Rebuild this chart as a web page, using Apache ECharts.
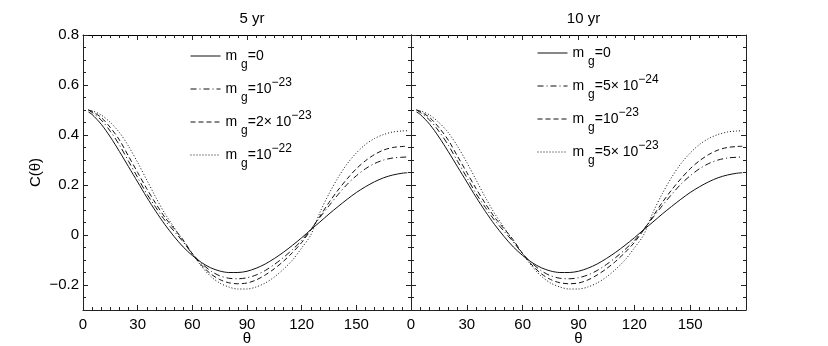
<!DOCTYPE html>
<html><head><meta charset="utf-8">
<script src="https://cdn.jsdelivr.net/npm/echarts@6/dist/echarts.min.js"></script>
<style>html,body{margin:0;padding:0;background:#fff}#c{width:828px;height:346px}</style>
</head><body><div id="c"></div>
<script>
var theta = [3,5,10,15,20,25,30,35,40,45,50,55,60,65,70,75,80,85,90,95,100,105,110,115,120,125,130,135,140,145,150,155,160,165,170,175,178];
// 5 yr panel
var L_mg0   = [0.492,0.482,0.443,0.392,0.334,0.273,0.212,0.151,0.094,0.041,-0.006,-0.048,-0.082,-0.110,-0.131,-0.144,-0.150,-0.150,-0.145,-0.133,-0.116,-0.094,-0.069,-0.041,-0.011,0.021,0.052,0.084,0.114,0.143,0.170,0.193,0.213,0.229,0.240,0.247,0.249];
var L_mg1   = [0.500,0.490,0.460,0.415,0.360,0.295,0.230,0.165,0.110,0.058,0.015,-0.028,-0.075,-0.113,-0.143,-0.163,-0.173,-0.175,-0.171,-0.160,-0.142,-0.118,-0.090,-0.058,-0.022,0.022,0.070,0.117,0.162,0.203,0.237,0.265,0.286,0.300,0.308,0.311,0.312];
var L_mg2   = [0.500,0.494,0.470,0.430,0.380,0.315,0.250,0.185,0.125,0.070,0.025,-0.020,-0.075,-0.120,-0.155,-0.178,-0.191,-0.195,-0.192,-0.180,-0.160,-0.135,-0.105,-0.070,-0.030,0.020,0.075,0.130,0.180,0.225,0.265,0.297,0.322,0.340,0.350,0.354,0.355];
var L_mg3   = [0.500,0.497,0.480,0.450,0.410,0.355,0.290,0.220,0.150,0.085,0.030,-0.025,-0.075,-0.125,-0.165,-0.192,-0.208,-0.216,-0.216,-0.208,-0.192,-0.168,-0.137,-0.100,-0.052,0.000,0.090,0.165,0.230,0.285,0.328,0.362,0.386,0.402,0.412,0.416,0.417];
// 10 yr panel
var R_mg0   = [0.492,0.482,0.443,0.392,0.334,0.273,0.212,0.151,0.094,0.041,-0.006,-0.048,-0.082,-0.110,-0.131,-0.144,-0.150,-0.150,-0.145,-0.133,-0.116,-0.094,-0.069,-0.041,-0.011,0.021,0.052,0.084,0.114,0.143,0.170,0.193,0.213,0.229,0.240,0.247,0.249];
var R_mg1   = [0.500,0.490,0.460,0.415,0.360,0.295,0.230,0.165,0.110,0.058,0.015,-0.028,-0.075,-0.113,-0.143,-0.163,-0.173,-0.175,-0.171,-0.160,-0.142,-0.118,-0.090,-0.058,-0.022,0.022,0.070,0.117,0.162,0.203,0.237,0.265,0.286,0.300,0.308,0.311,0.312];
var R_mg2   = [0.500,0.494,0.470,0.430,0.380,0.315,0.250,0.185,0.125,0.070,0.025,-0.020,-0.075,-0.120,-0.155,-0.178,-0.191,-0.195,-0.192,-0.180,-0.160,-0.135,-0.105,-0.070,-0.030,0.020,0.075,0.130,0.180,0.225,0.265,0.297,0.322,0.340,0.350,0.354,0.355];
var R_mg3   = [0.500,0.497,0.480,0.450,0.410,0.355,0.290,0.220,0.150,0.085,0.030,-0.025,-0.075,-0.125,-0.165,-0.192,-0.208,-0.216,-0.216,-0.208,-0.192,-0.168,-0.137,-0.100,-0.052,0.000,0.090,0.165,0.230,0.285,0.328,0.362,0.386,0.402,0.412,0.416,0.417];

var panelTitles = ['5 yr', '10 yr'];
var leftLegend  = [['0',''],['10','\u221223'],['2\u00d7 10','\u221223'],['10','\u221222']];
var rightLegend = [['0',''],['5\u00d7 10','\u221224'],['10','\u221223'],['5\u00d7 10','\u221223']];
var yTickVals = [-0.2,0,0.2,0.4,0.6,0.8];
var xTickLabels = ['0','30','60','90','120','150'];

var FONT = 'Liberation Sans, Arial, Helvetica, sans-serif';
var styles = [
  {type:'solid'},
  {type:[6,3,1,3]},
  {type:[5,3]},
  {type:[1,2]}
];
function pairs(arr){ return theta.map(function(t,i){ return [t, arr[i]]; }); }

var grids = [
  {left:83, top:35, width:328, height:275, outerBoundsMode:'none', containLabel:false},
  {left:411, top:35, width:335, height:275, outerBoundsMode:'none', containLabel:false}
];
var xAxes = [], yAxes = [], series = [];
var AX = '#222';
grids.forEach(function(g, gi){
  xAxes.push({gridIndex:gi, type:'value', position:'bottom', min:0, max:180, interval:30,
    axisLine:{show:true, onZero:false, lineStyle:{color:AX, width:1}},
    axisTick:{show:true, inside:true, length:5, lineStyle:{color:AX}},
    minorTick:{show:true, splitNumber:6, length:3, lineStyle:{color:AX}},
    splitLine:{show:false},
    axisLabel:{show:true, margin:7, color:'#000', fontFamily:FONT, fontSize:15, showMaxLabel:false,
      formatter:function(v){ var i=Math.round(v/30); return i<xTickLabels.length? xTickLabels[i] : ''; }},
    name:'\u03b8', nameLocation:'middle', nameGap:21, nameMoveOverlap:false,
    nameTextStyle:{color:'#000', fontFamily:FONT, fontSize:15}
  });
  xAxes.push({gridIndex:gi, type:'value', position:'top', min:0, max:180, interval:30,
    axisLine:{show:true, onZero:false, lineStyle:{color:'#000', width:1}},
    axisTick:{show:true, inside:true, length:5, lineStyle:{color:AX}},
    minorTick:{show:true, splitNumber:6, length:3, lineStyle:{color:AX}},
    splitLine:{show:false}, axisLabel:{show:false}
  });
  ['left','right'].forEach(function(pos){
    var showLab = (gi===0 && pos==='left');
    yAxes.push({gridIndex:gi, type:'value', position:pos, min:-0.3, max:0.8,
      axisLine:{show:true, onZero:false, lineStyle:{color:AX, width:1}},
      axisTick:{show:true, inside:true, length:5, customValues:yTickVals, lineStyle:{color:AX}},
      splitLine:{show:false},
      axisLabel:{show:showLab, margin:4, color:'#000', fontFamily:FONT, fontSize:15, customValues:yTickVals,
        formatter:function(v){ if(Math.abs(v)<1e-9) return '0'; return (v<0?'\u2212':'')+Math.abs(v).toFixed(1); }},
      name: showLab ? 'C(\u03b8)' : '', nameLocation:'middle', nameGap:40, nameRotate:90, nameMoveOverlap:false,
      nameTextStyle:{color:'#000', fontFamily:FONT, fontSize:15}
    });
    yAxes.push({gridIndex:gi, type:'value', position:pos, min:-0.3, max:0.8, interval:0.05,
      axisLine:{show:false, onZero:false},
      axisTick:{show:true, inside:true, length:3, lineStyle:{color:AX}},
      splitLine:{show:false}, axisLabel:{show:false}
    });
  });
});

var sets = [[L_mg0,L_mg1,L_mg2,L_mg3],[R_mg0,R_mg1,R_mg2,R_mg3]];
sets.forEach(function(set, gi){
  set.forEach(function(arr, k){
    series.push({type:'line', name:(gi===0?'L':'R')+k, xAxisIndex:gi*2, yAxisIndex:gi*4,
      data:pairs(arr), symbol:'none', smooth:0.3, silent:true, animation:false,
      itemStyle:{color:'#000'},
      lineStyle:{color:'#111', width:1, type:styles[k].type}
    });
  });
});

var rich = {
  m:{fontSize:14, fontFamily:FONT, color:'#000', lineHeight:30, verticalAlign:'middle'},
  sub:{fontSize:12, fontFamily:FONT, color:'#000', lineHeight:12, verticalAlign:'bottom', padding:[8,0,0,0]},
  sup:{fontSize:12, fontFamily:FONT, color:'#000', lineHeight:12, verticalAlign:'top', padding:[3,0,0,0]}
};
function legFmt(tbl){
  return function(name){
    var k = +name.slice(1); var e = tbl[k];
    return '{m|m }{sub|g}{m|=' + e[0] + '}' + (e[1] ? '{sup|' + e[1] + '}' : '');
  };
}
var legends = [
  {data:['L0','L1','L2','L3'], left:190, top:49, formatter:legFmt(leftLegend)},
  {data:['R0','R1','R2','R3'], left:537, top:46, formatter:legFmt(rightLegend)}
].map(function(l){
  return Object.assign({orient:'vertical', padding:0, itemGap:3, itemWidth:30, itemHeight:14, itemTextGap:5,
    selectedMode:false, itemStyle:{color:'rgba(0,0,0,0)', borderWidth:0, opacity:0},
    lineStyle:{width:1, color:'#111'},
    textStyle:{rich:rich, fontFamily:FONT, fontSize:14, color:'#000'}}, l);
});

var chart = echarts.init(document.getElementById('c'), null, {renderer:'canvas'});
chart.setOption({
  animation:false,
  backgroundColor:'#fff',
  title: panelTitles.map(function(t, i){
    var g = grids[i];
    return {text:t, left: g.left + g.width/2, top:6, textAlign:'center',
      textStyle:{fontFamily:FONT, fontSize:15, fontWeight:'normal', color:'#000'}};
  }),
  grid: grids,
  xAxis: xAxes,
  yAxis: yAxes,
  legend: legends,
  series: series
});
</script></body></html>
